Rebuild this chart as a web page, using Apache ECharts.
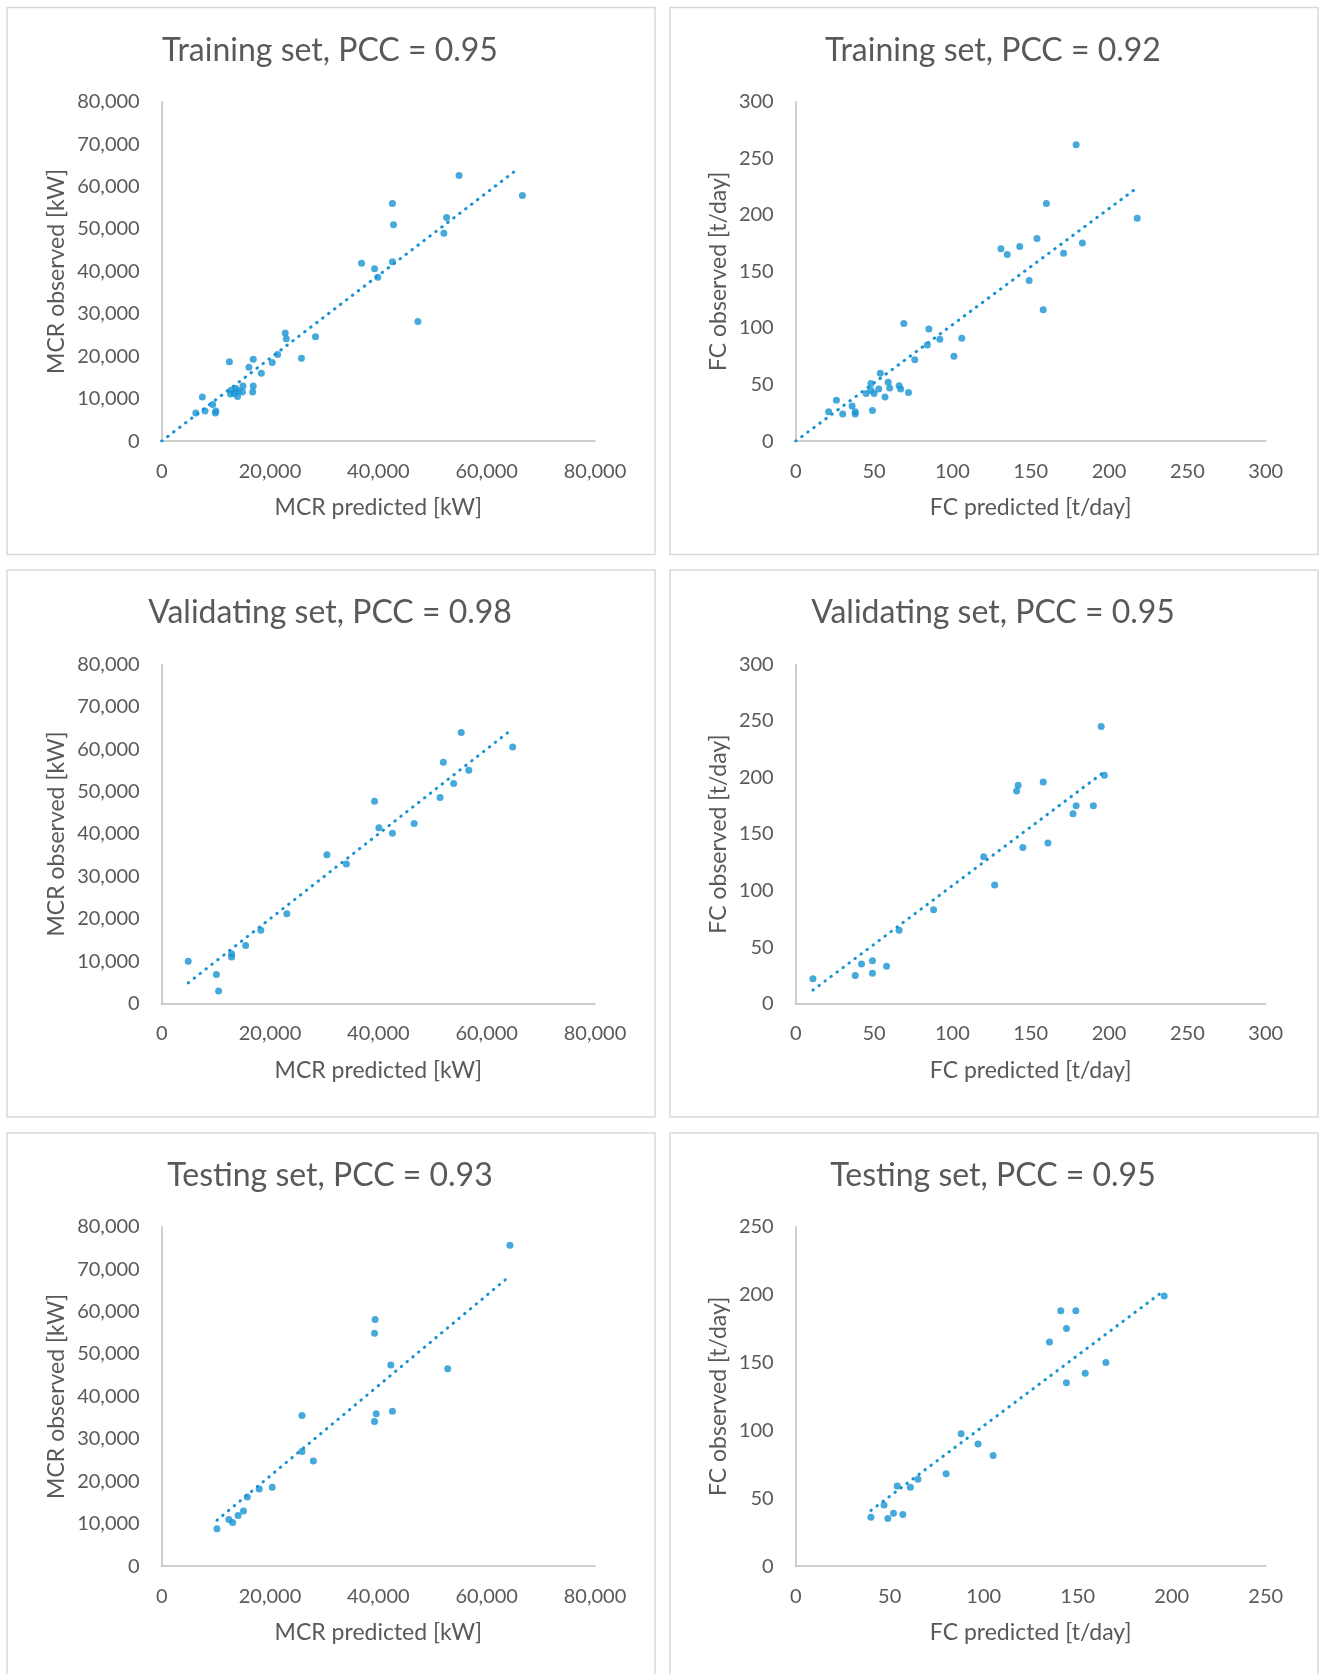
<!DOCTYPE html>
<html>
<head>
<meta charset="utf-8">
<script src="https://cdn.jsdelivr.net/npm/echarts@6/dist/echarts.min.js"></script>
<style>
  html, body { margin: 0; padding: 0; background: #ffffff; }
  #chart { width: 1319px; height: 1674px; }
</style>
</head>
<body>
<div id="chart"></div>
<script>
// ---- Training set, MCR [kW] ----
const trainMcrPred = [54900, 66600, 42600, 42800, 52600, 52100, 36900, 39300, 42600, 39900, 47300, 22800, 23000, 28400, 25800, 21400, 20400, 16900, 12500, 16100, 18400, 16900, 16800, 15000, 14900, 14000, 12800, 12700, 13700, 14100, 13400, 7500, 9400, 8000, 6300, 10000, 9900];
const trainMcrObs  = [62600, 57900, 56000, 51000, 52700, 49000, 41900, 40600, 42300, 38600, 28200, 25500, 24100, 24600, 19500, 20400, 18500, 19300, 18700, 17400, 16000, 13000, 11600, 13000, 11600, 10500, 12000, 11100, 12400, 11800, 11200, 10400, 8600, 7100, 6600, 7100, 6600];
const trainMcrTrend = [[0, 0], [66000, 64400]];

// ---- Training set, FC [t/day] ----
const trainFcPred = [179, 218, 160, 154, 183, 171, 131, 135, 143, 149, 158, 69, 85, 106, 92, 84, 101, 76, 54, 59, 66, 67, 72, 60, 53, 48, 48, 50, 45, 57, 49, 26, 36, 21, 30, 38, 38];
const trainFcObs  = [262, 197, 210, 179, 175, 166, 170, 165, 172, 142, 116, 104, 99, 91, 90, 85, 75, 72, 60, 52, 49, 46, 43, 47, 46, 51, 45, 42, 42, 39, 27, 36, 31, 26, 24, 26, 24];
const trainFcTrend = [[0, 0], [217, 223]];

// ---- Validating set, MCR [kW] ----
const validMcrPred = [55300, 64800, 52000, 56700, 53900, 51400, 39300, 40100, 42600, 46600, 30500, 34100, 23100, 18300, 15500, 12900, 12900, 4900, 10100, 10500];
const validMcrObs  = [63900, 60500, 56900, 55000, 51900, 48600, 47700, 41500, 40200, 42500, 35100, 32900, 21200, 17300, 13700, 11800, 11000, 10000, 6900, 3000];
const validMcrTrend = [[4900, 4900], [64700, 64700]];

// ---- Validating set, FC [t/day] ----
const validFcPred = [195, 197, 142, 141, 158, 179, 190, 177, 161, 145, 120, 127, 88, 66, 49, 42, 58, 49, 38, 11];
const validFcObs  = [245, 202, 193, 188, 196, 175, 175, 168, 142, 138, 130, 105, 83, 65, 38, 35, 33, 27, 25, 22];
const validFcTrend = [[11, 12], [197, 205]];

// ---- Testing set, MCR [kW] ----
const testMcrPred = [64300, 39400, 39300, 42300, 52800, 39600, 39300, 42600, 25900, 25900, 28000, 20400, 18000, 15800, 15100, 14100, 12400, 13100, 10200];
const testMcrObs  = [75600, 58100, 54900, 47400, 46500, 35900, 34100, 36500, 35500, 27000, 24800, 18600, 18200, 16300, 13000, 11900, 11000, 10300, 8800];
const testMcrTrend = [[10200, 10800], [64300, 68400]];

// ---- Testing set, FC [t/day] ----
const testFcPred = [196, 141, 149, 144, 135, 165, 154, 144, 88, 97, 105, 80, 65, 61, 54, 47, 52, 57, 40, 49];
const testFcObs  = [199, 188, 188, 175, 165, 150, 142, 135, 97.5, 90, 81.5, 68, 64, 58, 59, 45, 39, 38, 36, 35];
const testFcTrend = [[40, 41], [196, 203]];

// Panel titles and axis names
const panelTitles = [
  'Training set, PCC = 0.95', 'Training set, PCC = 0.92',
  'Validating set, PCC = 0.98', 'Validating set, PCC = 0.95',
  'Testing set, PCC = 0.93', 'Testing set, PCC = 0.95'
];
const mcrXName = 'MCR predicted [kW]';
const mcrYName = 'MCR observed [kW]';
const fcXName = 'FC predicted [t/day]';
const fcYName = 'FC observed [t/day]';

// Axis ranges: [max, xInterval, yInterval]
const mcrRange = [80000, 20000, 10000];
const fcRange300 = [300, 50, 50];
const fcRange250 = [250, 50, 50];

const panels = [
  { pred: trainMcrPred, obs: trainMcrObs, trend: trainMcrTrend, kind: 'mcr', range: mcrRange },
  { pred: trainFcPred,  obs: trainFcObs,  trend: trainFcTrend,  kind: 'fc',  range: fcRange300 },
  { pred: validMcrPred, obs: validMcrObs, trend: validMcrTrend, kind: 'mcr', range: mcrRange },
  { pred: validFcPred,  obs: validFcObs,  trend: validFcTrend,  kind: 'fc',  range: fcRange300 },
  { pred: testMcrPred,  obs: testMcrObs,  trend: testMcrTrend,  kind: 'mcr', range: mcrRange },
  { pred: testFcPred,   obs: testFcObs,   trend: testFcTrend,   kind: 'fc',  range: fcRange250 }
];

// Page layout (pixels)
const FONT = 'Lato, "Open Sans", sans-serif';
const TEXT = '#595959';
const BLUE = '#1793d3';
const boxLeft = [7, 670];
const boxTop = [7.5, 570, 1133];
const boxW = 648, boxH = 547;
const gridLeft = [161.7, 795.7];
const gridWidth = [433.3, 470];
const gridTop = [101.7, 664.3, 1226.7];
const gridHeight = 339.4;

const fmt = v => v.toLocaleString('en-US');

const grids = [], xAxes = [], yAxes = [], series = [], titles = [], rects = [];

panels.forEach((p, i) => {
  const col = i % 2, row = Math.floor(i / 2);
  const isMcr = p.kind === 'mcr';

  rects.push({
    type: 'rect', silent: true, z: -1,
    shape: { x: boxLeft[col], y: boxTop[row], width: boxW, height: boxH },
    style: { fill: '#ffffff', stroke: '#d9d9d9', lineWidth: 1.5 }
  });

  titles.push({
    text: panelTitles[i],
    left: boxLeft[col] + boxW / 2 - 6,
    top: boxTop[row] + 22,
    textAlign: 'center',
    textStyle: { fontFamily: FONT, fontSize: 32, fontWeight: 'normal', color: TEXT }
  });

  grids.push({
    left: gridLeft[col], top: gridTop[row],
    width: gridWidth[col], height: gridHeight,
    containLabel: false
  });

  const axisCommon = {
    type: 'value', gridIndex: i, min: 0, max: p.range[0],
    nameLocation: 'middle',
    nameTextStyle: { fontFamily: FONT, fontSize: 23, color: TEXT },
    axisLine: { show: true, lineStyle: { color: '#bfbfbf', width: 1.5 } },
    axisTick: { show: false },
    splitLine: { show: false },
    axisLabel: { fontFamily: FONT, fontSize: 20, color: TEXT, formatter: fmt }
  };

  xAxes.push(Object.assign({}, axisCommon, {
    interval: p.range[1],
    name: isMcr ? mcrXName : fcXName,
    nameGap: 55,
    axisLabel: Object.assign({}, axisCommon.axisLabel, { margin: 20 })
  }));

  yAxes.push(Object.assign({}, axisCommon, {
    interval: p.range[2],
    name: isMcr ? mcrYName : fcYName,
    nameGap: isMcr ? 94 : 66,
    axisLabel: Object.assign({}, axisCommon.axisLabel, { margin: 22 })
  }));

  series.push({
    type: 'line', xAxisIndex: i, yAxisIndex: i,
    data: p.trend, symbol: 'none', silent: true, z: 2,
    lineStyle: { color: BLUE, width: 3, type: [0.5, 7], cap: 'round' }
  });

  series.push({
    type: 'scatter', xAxisIndex: i, yAxisIndex: i,
    data: p.pred.map((x, k) => [x, p.obs[k]]),
    symbol: 'circle', symbolSize: 7, z: 3,
    itemStyle: { color: BLUE }
  });
});

const chart = echarts.init(document.getElementById('chart'), null, { renderer: 'canvas' });
chart.setOption({
  backgroundColor: '#ffffff',
  animation: false,
  title: titles,
  grid: grids,
  xAxis: xAxes,
  yAxis: yAxes,
  series: series,
  graphic: rects
});
</script>
</body>
</html>
